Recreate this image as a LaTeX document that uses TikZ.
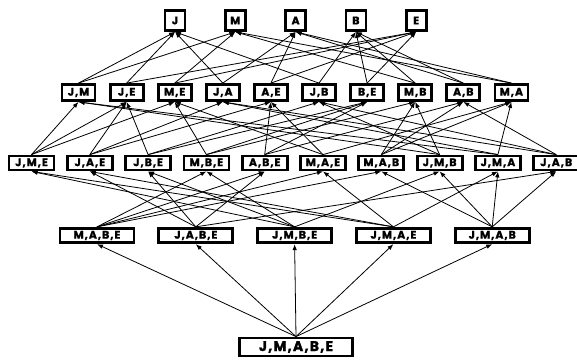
\documentclass[tikz,border=0pt]{standalone}
\usepackage{fontspec}
\setmainfont{Poppins}[LetterSpace=9,BoldFeatures={FakeBold=1.3}]
\usetikzlibrary{arrows.meta,positioning}

\tikzset{
  setbox/.style={draw,fill=white,line width=2.8pt,inner sep=0pt,
    font=\bfseries\fontsize{11}{13}\selectfont},
  lvlone/.style={setbox,minimum width=20pt,minimum height=20pt},
  lvltwo/.style={setbox,minimum width=33pt,minimum height=16pt},
  lvlthree/.style={setbox,minimum width=45pt,minimum height=14pt},
  lvlfour/.style={setbox,minimum width=74pt,minimum height=14.5pt},
  lvlfive/.style={setbox,minimum width=113.5pt,minimum height=18pt,
    font=\bfseries\fontsize{14}{16}\selectfont},
  link/.style={-{Latex[length=6pt,width=4.5pt]},line width=0.8pt}
}

\begin{document}
\begin{tikzpicture}[x=1pt,y=1pt]
    \useasboundingbox (0,0) rectangle (577,360);
    % singletons
    \node[lvlone] (J) at (175,339.5) {J};
    \node[lvlone,right=37.5pt of J] (M) {M};
    \node[lvlone,right=37.5pt of M] (A) {A};
    \node[lvlone,right=37.5pt of A] (B) {B};
    \node[lvlone,right=37.5pt of B] (E) {E};
    % pairs
    \node[lvltwo] (JM) at (78.5,267.5) {J,M};
    \node[lvltwo,right=12.3pt of JM] (JE) {J,E};
    \node[lvltwo,right=12.3pt of JE] (ME) {M,E};
    \node[lvltwo,right=12.3pt of ME] (JA) {J,A};
    \node[lvltwo,right=12.3pt of JA] (AE) {A,E};
    \node[lvltwo,right=12.3pt of AE] (JB) {J,B};
    \node[lvltwo,right=12.3pt of JB] (BE) {B,E};
    \node[lvltwo,right=12.3pt of BE] (MB) {M,B};
    \node[lvltwo,right=12.3pt of MB] (AB) {A,B};
    \node[lvltwo,right=12.3pt of AB] (MA) {M,A};
    % triples
    \node[lvlthree] (JME) at (31.5,197) {J,M,E};
    \node[lvlthree,right=10.5pt of JME] (JAE) {J,A,E};
    \node[lvlthree,right=10.5pt of JAE] (JBE) {J,B,E};
    \node[lvlthree,right=10.5pt of JBE] (MBE) {M,B,E};
    \node[lvlthree,right=10.5pt of MBE] (ABE) {A,B,E};
    \node[lvlthree,right=10.5pt of ABE] (MAE) {M,A,E};
    \node[lvlthree,right=10.5pt of MAE] (MAB) {M,A,B};
    \node[lvlthree,right=10.5pt of MAB] (JMB) {J,M,B};
    \node[lvlthree,right=10.5pt of JMB] (JMA) {J,M,A};
    \node[lvlthree,right=10.5pt of JMA] (JAB) {J,A,B};
    % quadruples
    \node[lvlfour] (MABE) at (97,124.5) {M,A,B,E};
    \node[lvlfour,right=22pt of MABE] (JABE) {J,A,B,E};
    \node[lvlfour,right=22pt of JABE] (JMBE) {J,M,B,E};
    \node[lvlfour,right=22pt of JMBE] (JMAE) {J,M,A,E};
    \node[lvlfour,right=22pt of JMAE] (JMAB) {J,M,A,B};
    % full set
    \node[lvlfive] (JMABE) at (296,13) {J,M,A,B,E};

    \foreach \s/\t in {JM/J,JM/M,JE/J,JE/E,ME/M,ME/E,JA/J,JA/A,AE/A,AE/E,
        JB/J,JB/B,BE/B,BE/E,MB/M,MB/B,AB/A,AB/B,MA/M,MA/A}
      \draw[link] (\s.north) -- (\t.south);
    \foreach \s/\t in {JME/JM,JME/JE,JME/ME,JAE/JA,JAE/JE,JAE/AE,
        JBE/JB,JBE/JE,JBE/BE,MBE/MB,MBE/ME,MBE/BE,ABE/AB,ABE/AE,ABE/BE,
        MAE/MA,MAE/ME,MAE/AE,MAB/MA,MAB/MB,MAB/AB,JMB/JM,JMB/JB,JMB/MB,
        JMA/JM,JMA/JA,JMA/MA,JAB/JA,JAB/JB,JAB/AB}
      \draw[link] (\s.north) -- (\t.south);
    \foreach \s/\t in {MABE/MAB,MABE/MAE,MABE/MBE,MABE/ABE,
        JABE/JAB,JABE/JAE,JABE/JBE,JABE/ABE,JMBE/JMB,JMBE/JME,JMBE/JBE,JMBE/MBE,
        JMAE/JMA,JMAE/JME,JMAE/JAE,JMAE/MAE,JMAB/JMA,JMAB/JMB,JMAB/JAB,JMAB/MAB}
      \draw[link] (\s.north) -- (\t.south);
    \foreach \t in {MABE,JABE,JMBE,JMAE,JMAB}
      \draw[link] (JMABE.north) -- (\t.south);
  \end{tikzpicture}
\end{document}
